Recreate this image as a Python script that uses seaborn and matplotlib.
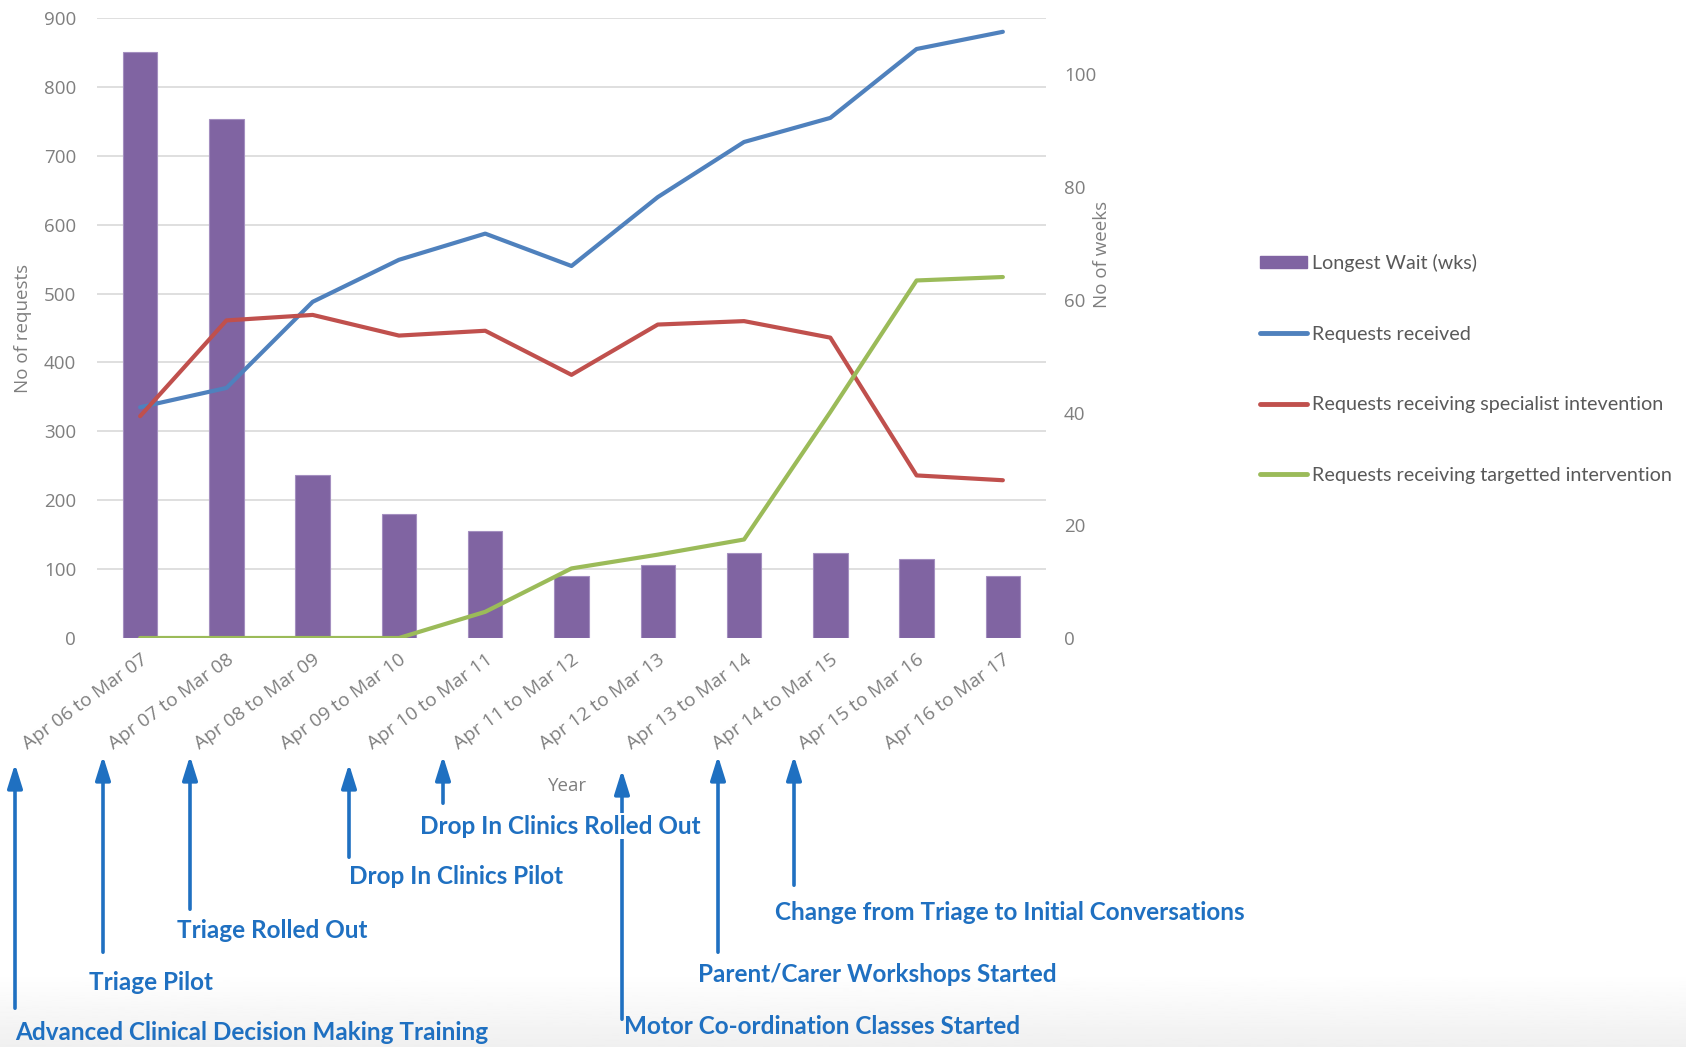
import numpy as np
import pandas as pd
import matplotlib
matplotlib.use('Agg')
import matplotlib.pyplot as plt
from matplotlib.ticker import FixedLocator
from matplotlib.patches import Patch, FancyArrowPatch
from matplotlib.lines import Line2D
import seaborn as sns

# data
years = ['Apr 06 to Mar 07', 'Apr 07 to Mar 08', 'Apr 08 to Mar 09', 'Apr 09 to Mar 10',
         'Apr 10 to Mar 11', 'Apr 11 to Mar 12', 'Apr 12 to Mar 13', 'Apr 13 to Mar 14',
         'Apr 14 to Mar 15', 'Apr 15 to Mar 16', 'Apr 16 to Mar 17']
longest_wait = [104, 92, 29, 22, 19, 11, 13, 15, 15, 14, 11]
received = [335, 363, 488, 549, 587, 540, 640, 720, 755, 855, 880]
specialist = [322, 461, 469, 439, 446, 382, 455, 460, 436, 236, 229]
targetted = [0, 0, 0, 0, 38, 101, 121, 143, 328, 519, 524]

events = ['Advanced Clinical Decision Making Training', 'Triage Pilot', 'Triage Rolled Out',
          'Drop In Clinics Pilot', 'Drop In Clinics Rolled Out',
          'Motor Co-ordination Classes Started', 'Parent/Carer Workshops Started',
          'Change from Triage to Initial Conversations']

req_ticks = list(range(0, 901, 100))
week_ticks = list(range(0, 101, 20))
req_max = 900
week_max = 110

df = pd.DataFrame({'Year': years, 'pos': range(len(years)), 'wait': longest_wait,
                   'received': received, 'specialist': specialist, 'targetted': targetted})

sns.set_style('white')
plt.rcParams['font.family'] = ['Open Sans', 'DejaVu Sans']

W, H = 1686, 1047
fig = plt.figure(figsize=(W / 100, H / 100), dpi=100)

# faint grey fade at the bottom of the screenshot
bg = fig.add_axes([0, 0, 1, 0.07], zorder=-5)
bg.imshow(np.linspace(1.0, 0.94, 60)[:, None], cmap='gray', vmin=0, vmax=1,
          aspect='auto', extent=[0, 1, 0, 1], origin='upper')
bg.axis('off')

left, right, top, bottom = 97, 1046, 18, 638
ax_bars = fig.add_axes([left / W, 1 - bottom / H, (right - left) / W, (bottom - top) / H])
ax_lines = ax_bars.twinx()

purple = '#8064A2'
blue = '#4F81BD'
red = '#C0504D'
green = '#9BBB59'
grey = '#7f7f7f'
dark_grey = '#595959'

sns.barplot(data=df, x='Year', y='wait', ax=ax_bars, color=purple, saturation=1,
            width=0.4, edgecolor='#a48fc0', linewidth=0.8)

for col, c in [('received', blue), ('specialist', red), ('targetted', green)]:
    sns.lineplot(data=df, x='pos', y=col, ax=ax_lines, color=c, linewidth=3.0,
                 sort=False)

# axes setup
ax_bars.set_xlim(-0.5, len(years) - 0.5)
ax_bars.set_ylim(0, week_max)
ax_lines.set_ylim(0, req_max)

ax_bars.yaxis.tick_right()
ax_bars.yaxis.set_label_position('right')
ax_lines.yaxis.tick_left()
ax_lines.yaxis.set_label_position('left')

ax_bars.set_yticks(week_ticks)
ax_lines.set_yticks(req_ticks)

# gridlines follow the requests scale but sit under the bars
ax_bars.yaxis.set_minor_locator(FixedLocator(np.array(req_ticks) * week_max / req_max))
ax_bars.grid(which='minor', axis='y', color='#d9d9d9', linewidth=1.2)
ax_bars.grid(which='major', visible=False)
ax_bars.set_axisbelow(True)

for a in (ax_bars, ax_lines):
    for s in a.spines.values():
        s.set_visible(False)
    a.tick_params(which='both', length=0, labelcolor=grey, labelsize=13.5)

ax_bars.tick_params(axis='y', pad=13)
ax_lines.tick_params(axis='y', pad=15)
ax_bars.tick_params(axis='x', pad=9, labelsize=13.8)
ax_bars.set_xticks(range(len(years)))
ax_bars.set_xticklabels(years, rotation=36, ha='right', rotation_mode='anchor')

ax_lines.set_ylabel('No of requests', color=grey, fontsize=13.5)
ax_lines.yaxis.set_label_coords(-0.069, 0.5)
ax_bars.set_ylabel('No of weeks', color=grey, fontsize=13.5)
ax_bars.yaxis.set_label_coords(1.05, 0.618)
ax_bars.set_xlabel('Year', color=grey, fontsize=13.5)
ax_bars.xaxis.set_label_coords(0.496, -0.224)

# legend
handles = [Patch(facecolor=purple, edgecolor=purple),
           Line2D([], [], color=blue, linewidth=3.5),
           Line2D([], [], color=red, linewidth=3.5),
           Line2D([], [], color=green, linewidth=3.5)]
labels = ['Longest Wait (wks)', 'Requests received',
          'Requests receiving specialist intevention',
          'Requests receiving targetted intervention']
leg = fig.legend(handles, labels, loc='upper left', bbox_to_anchor=(1260 / W, 1 - 254 / H),
                 frameon=False, prop={'family': ['Lato', 'DejaVu Sans'], 'size': 14.2},
                 labelspacing=2.72, handlelength=2.4, handleheight=0.6,
                 handletextpad=0.25, borderpad=0, borderaxespad=0, labelcolor=dark_grey)

# event arrows and captions (top-origin pixel positions)
arrow_blue = '#1f70c1'
arrows = [(15, 1011, 761), (103, 955, 753), (190, 912, 753), (349, 860, 761),
          (443, 806, 753), (622, 1022, 767), (718, 955, 753), (794, 888, 753)]
captions = [(15, 1033), (89, 982), (177, 930), (349, 877), (420, 826), (624, 1026),
            (698, 975), (775, 913)]

for (x, y0, y1), (tx, ty), label in zip(arrows, captions, events):
    fig.add_artist(FancyArrowPatch(
        (x / W, 1 - y0 / H), (x / W, 1 - y1 / H), transform=fig.transFigure,
        arrowstyle='-|>,head_length=0.8,head_width=0.25', mutation_scale=18,
        color=arrow_blue, linewidth=2.6))
    box = None
    if label == 'Drop In Clinics Rolled Out':
        box = dict(facecolor='white', edgecolor='none', pad=1)
    fig.text(tx / W, 1 - ty / H, label, color=arrow_blue, fontsize=17.5, fontweight='bold',
             family=['Lato', 'DejaVu Sans'], ha='left', va='center', bbox=box, zorder=5)

fig.savefig('out.png', dpi=100)
